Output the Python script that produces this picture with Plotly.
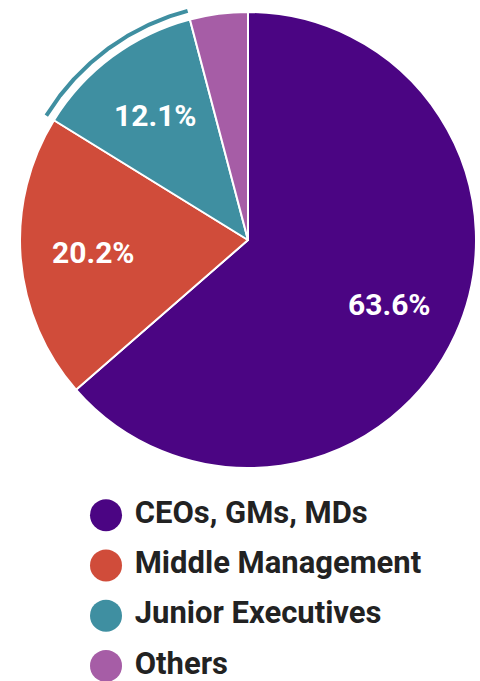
import numpy as np
import plotly.graph_objects as go

labels = ["CEOs, GMs, MDs", "Middle Management", "Junior Executives", "Others"]
values = [63.6, 20.2, 12.1, 4.1]
colors = ["#4B0583", "#D04C3A", "#3F8FA1", "#A65DA6"]
highlight = "Junior Executives"

W, H = 480, 681
cx, cy, R = 248, 240, 228  # pie centre / radius in px

def dom(cx, cy, r):
    return dict(x=[(cx - r) / W, (cx + r) / W], y=[1 - (cy + r) / H, 1 - (cy - r) / H])

total = sum(values)
cum = np.cumsum([0] + values) / total * 360          # slice boundaries (deg, clockwise from top)
mid = np.radians((cum[:-1] + cum[1:]) / 2)
pie_text = [f"{v:.1f}%" if v >= 5 else "" for v in values]

fig = go.Figure()
fig.add_trace(go.Pie(
    labels=labels, values=values, sort=False, direction="clockwise", rotation=0,
    marker=dict(colors=colors, line=dict(color="white", width=2)),
    textinfo="none", domain=dom(cx, cy, R), showlegend=False, hoverinfo="skip",
))

# slice labels, placed on each slice's mid angle (annotations sit above the pie layer)
rl = 0.68 * R
for t, a in zip(pie_text, mid):
    if t:
        fig.add_annotation(
            x=rl * np.sin(a), y=rl * np.cos(a), xref="x2", yref="y2", text=t,
            showarrow=False, xanchor="center", yanchor="middle",
            font=dict(family="Roboto", size=30, color="white", weight="bold"),
        )

# highlight arc around one slice (angles derived from the values)
idx = labels.index(highlight)
theta = np.radians(np.linspace(cum[idx], cum[idx + 1], 120))
ra = 237
fig.add_trace(go.Scatter(
    x=ra * np.sin(theta), y=ra * np.cos(theta), mode="lines",
    line=dict(color=colors[idx], width=4),
    xaxis="x2", yaxis="y2", showlegend=False, hoverinfo="skip",
))

# legend drawn as a scatter on its own axes
fig.add_trace(go.Scatter(
    x=[0] * len(labels), y=list(range(len(labels))), mode="markers+text",
    marker=dict(size=32, color=colors, symbol="circle"),
    text=[" " + l for l in labels], textposition="middle right",
    textfont=dict(family="Roboto", size=31, color="#222222", weight="bold"),
    showlegend=False, hoverinfo="skip", cliponaxis=False,
))
fig.update_layout(
    width=W, height=H, margin=dict(l=0, r=0, t=0, b=0),
    paper_bgcolor="white", plot_bgcolor="rgba(0,0,0,0)",
    xaxis=dict(domain=[0, 1], range=[-1, 3.528], visible=False, fixedrange=True),
    yaxis=dict(domain=[0, 1 - 490 / H], range=[3.3, -0.5], visible=False, fixedrange=True),
    xaxis2=dict(domain=[0, 1], range=[-cx, W - cx], visible=False, fixedrange=True, anchor="y2"),
    yaxis2=dict(domain=[0, 1], range=[-(H - cy), cy], visible=False, fixedrange=True, anchor="x2"),
)
fig.write_html("out.html")
